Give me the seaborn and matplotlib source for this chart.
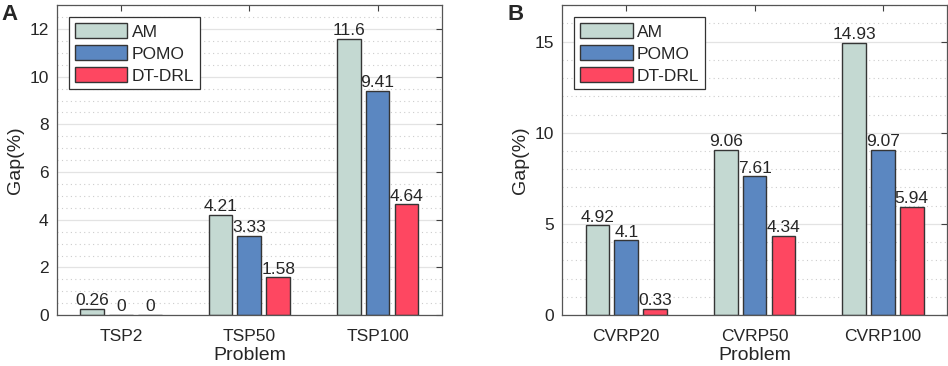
import numpy as np
import pandas as pd
import matplotlib
matplotlib.use("Agg")
import matplotlib.pyplot as plt
from matplotlib.ticker import MultipleLocator
import seaborn as sns

methods = ["AM", "POMO", "DT-DRL"]
colors = ["#c4d9d2", "#5b87c1", "#fe4761"]

tsp_problems = ["TSP2", "TSP50", "TSP100"]
tsp_am = [0.26, 4.21, 11.6]
tsp_pomo = [0, 3.33, 9.41]
tsp_dtdrl = [0, 1.58, 4.64]

cvrp_problems = ["CVRP20", "CVRP50", "CVRP100"]
cvrp_am = [4.92, 9.06, 14.93]
cvrp_pomo = [4.1, 7.61, 9.07]
cvrp_dtdrl = [0.33, 4.34, 5.94]

sns.set_style("white")
plt.rcParams["font.family"] = ["Liberation Sans", "DejaVu Sans"]
plt.rcParams["font.size"] = 12.5

FS = 12.5


def to_long(problems, series):
    rows = []
    for m, vals in zip(methods, series):
        for p, v in zip(problems, vals):
            rows.append({"Problem": p, "Method": m, "Gap": v})
    return pd.DataFrame(rows)


def draw_panel(ax, df, ymax, minor_step, major_step):
    sns.barplot(data=df, x="Problem", y="Gap", hue="Method", hue_order=methods,
                palette=colors, width=0.675, gap=0.18, edgecolor="#353535",
                linewidth=1.0, saturation=1, ax=ax)
    for c in ax.containers:
        ax.bar_label(c, fmt="%g", padding=0.5, fontsize=FS)
    ax.set_xlim(-0.5, 2.5)
    ax.set_ylim(0, ymax)
    ax.yaxis.set_major_locator(MultipleLocator(major_step))
    ax.yaxis.set_minor_locator(MultipleLocator(minor_step))
    ax.grid(axis="y", which="major", color="#e3e3e3", linewidth=0.9, linestyle="-")
    ax.grid(axis="y", which="minor", color="#cdcdcd", linewidth=0.8, linestyle=(0, (1, 3)))
    ax.set_axisbelow(True)
    ax.tick_params(which="major", direction="in", length=4, top=True, right=True,
                   color="#404040", labelsize=FS)
    ax.tick_params(axis="x", which="major", pad=10)
    ax.tick_params(axis="y", which="major", pad=6)
    ax.tick_params(which="minor", length=0)
    for s in ax.spines.values():
        s.set_color("#555555")
        s.set_linewidth(0.9)
    ax.set_xlabel("Problem", fontsize=14, labelpad=2.5)
    ax.set_ylabel("Gap(%)", fontsize=14, labelpad=4)
    handles, labels = ax.get_legend_handles_labels()
    leg = ax.legend(handles, labels, loc="upper left", bbox_to_anchor=(0.031, 0.961),
                    borderaxespad=0, handlelength=3.05, handleheight=1.0,
                    handletextpad=0.25, labelspacing=0.3, borderpad=0.33,
                    fancybox=False, edgecolor="#333333", framealpha=1, fontsize=FS)
    leg.get_frame().set_linewidth(0.9)


fig = plt.figure(figsize=(9.48, 3.66), dpi=100)
ax1 = fig.add_axes([0.060, 0.139, 0.406, 0.847])
ax2 = fig.add_axes([0.593, 0.139, 0.406, 0.847])

draw_panel(ax1, to_long(tsp_problems, [tsp_am, tsp_pomo, tsp_dtdrl]), 13, 0.5, 2)
draw_panel(ax2, to_long(cvrp_problems, [cvrp_am, cvrp_pomo, cvrp_dtdrl]), 17, 1, 5)

fig.text(0.002, 0.99, "A", fontsize=16, fontweight="bold", va="top", ha="left")
fig.text(0.535, 0.99, "B", fontsize=16, fontweight="bold", va="top", ha="left")

fig.savefig("out.png", dpi=100)
